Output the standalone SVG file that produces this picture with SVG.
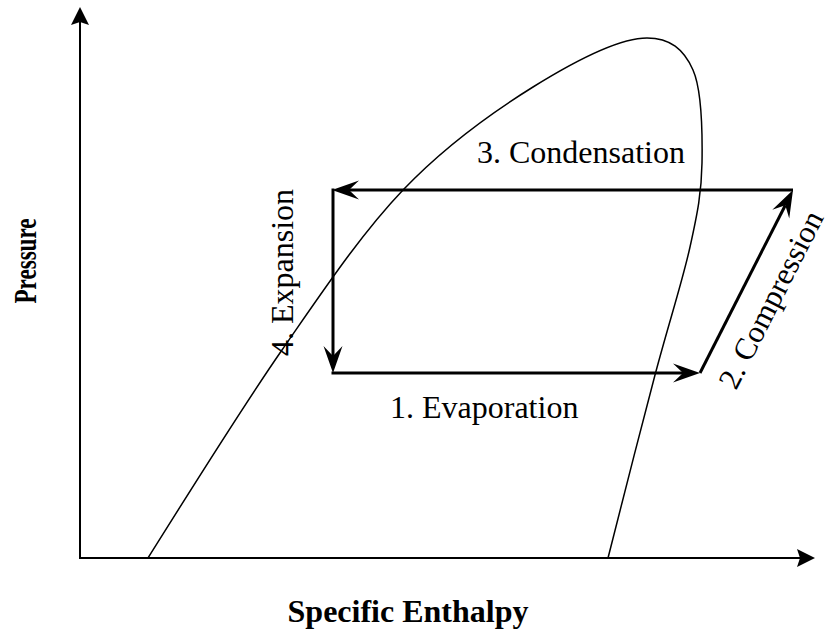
<svg xmlns="http://www.w3.org/2000/svg" width="831" height="632" viewBox="0 0 831 632">
  <style>
    .axis { stroke: #000; stroke-width: 2; fill: none; }
    .cycle { stroke: #000; stroke-width: 3; fill: none; }
    .dome { stroke: #000; stroke-width: 1.5; fill: none; }
    .lbl { font-family: "Liberation Serif", "Times New Roman", serif; font-size: 32px; fill: #000; }
    .ax { font-family: "Liberation Serif", "Times New Roman", serif; font-size: 32px; font-weight: bold; fill: #000; }
  </style>
  <defs>
    <marker id="axArrow" markerUnits="userSpaceOnUse" viewBox="-4 -10 20 20" refX="0" refY="0" markerWidth="20" markerHeight="20" orient="auto" overflow="visible">
      <path d="M15,0 L-3,-9 L0,0 L-3,9 Z" fill="#000"/>
    </marker>
    <marker id="cyArrow" markerUnits="userSpaceOnUse" viewBox="-11 -10 29 20" refX="0" refY="0" markerWidth="29" markerHeight="20" orient="auto" overflow="visible">
      <path d="M17,0 L-10,-9.5 L0,0 L-10,9.5 Z" fill="#000"/>
    </marker>
  </defs>
  <rect width="831" height="632" fill="#fff"/>

  <g id="axes">
    <line class="axis" x1="80" y1="558" x2="80" y2="22" marker-end="url(#axArrow)"/>
    <line class="axis" x1="79" y1="558" x2="800" y2="558" marker-end="url(#axArrow)"/>
  </g>

  <g id="saturation-dome">
    <path class="dome" d="M148,558 C170.3,522.5 239.5,411.2 282,350 C324.5,288.8 361.2,233.8 403,190 C444.8,146.2 492.3,112.3 533,87 C573.7,61.7 620,38 647,38 C670,38 683.8,49.2 693,70 C702.2,90.8 702.5,133.5 702,163 C701.5,192.5 697.8,211.7 690,247 C682.2,282.3 668.7,323.3 655,375 C641.3,426.7 615.8,526.7 608,558"/>
  </g>

  <g id="connectors">
    <line id="condensation" class="cycle" x1="793" y1="190" x2="349" y2="190" marker-end="url(#cyArrow)"/>
    <line id="expansion" class="cycle" x1="333" y1="188.5" x2="333" y2="356" marker-end="url(#cyArrow)"/>
    <line id="evaporation" class="cycle" x1="331.5" y1="373" x2="683" y2="373" marker-end="url(#cyArrow)"/>
    <line id="compression" class="cycle" x1="700" y1="373" x2="785.3" y2="205.2" marker-end="url(#cyArrow)"/>
  </g>

  <g id="labels">
    <text class="lbl" x="477" y="163">3. Condensation</text>
    <text class="lbl" x="390" y="418">1. Evaporation</text>
    <text class="lbl" transform="translate(293,356) rotate(-90)">4. Expansion</text>
    <text class="lbl" transform="translate(736,391) rotate(-63.06)" style="font-size:31px">2. Compression</text>
    <text class="ax" x="408" y="622" text-anchor="middle">Specific Enthalpy</text>
    <text class="ax" transform="translate(36,261) rotate(-90)" text-anchor="middle" textLength="85" lengthAdjust="spacingAndGlyphs">Pressure</text>
  </g>
</svg>
